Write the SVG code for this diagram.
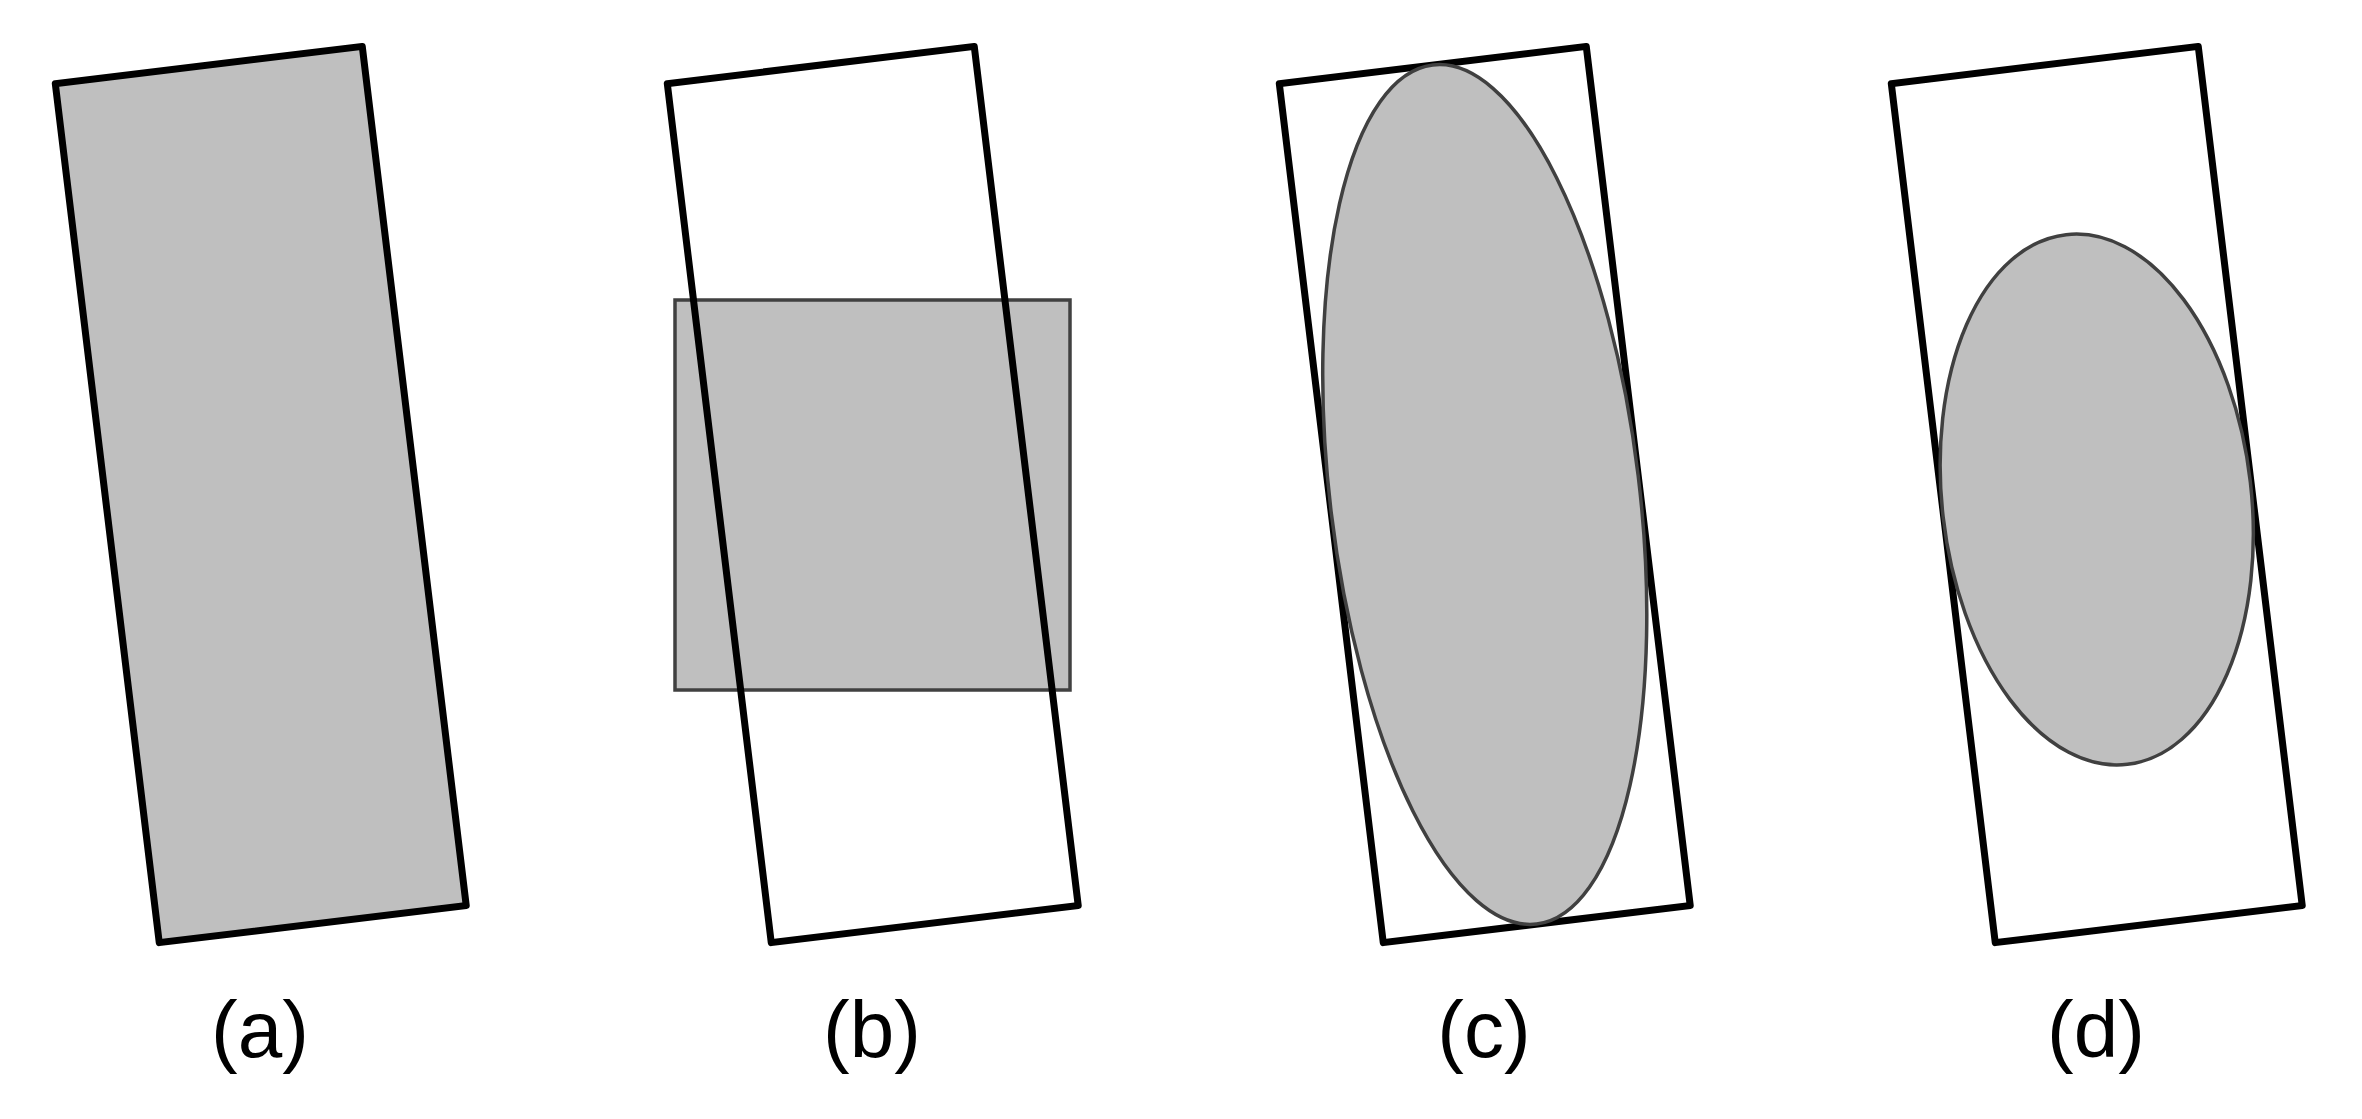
<svg xmlns="http://www.w3.org/2000/svg" width="2362" height="1119" viewBox="0 0 2362 1119">
  <defs>
    <style>
      .frame { fill: none; stroke: #000000; stroke-width: 7; stroke-linejoin: round; }
      .frame-filled { fill: #bfbfbf; stroke: #000000; stroke-width: 7; stroke-linejoin: round; }
      .shape { fill: #bfbfbf; stroke: #404040; stroke-width: 3.5; }
      .label { font-family: "Liberation Sans", Arial, sans-serif; font-size: 80px; fill: #000000; text-anchor: middle; }
    </style>
    <rect id="tiltrect" x="-154.6" y="-432.6" width="309.2" height="865.3"/>
  </defs>
  <rect width="2362" height="1119" fill="#ffffff"/>

  <g id="panel-a">
    <g transform="translate(260.75,494.5) rotate(-6.9)">
      <use href="#tiltrect" class="frame-filled"/>
    </g>
    <text class="label" x="260" y="1057">(a)</text>
  </g>

  <g id="panel-b">
    <rect class="shape" x="675" y="300" width="395" height="390"/>
    <g transform="translate(872.75,494.5) rotate(-6.9)">
      <use href="#tiltrect" class="frame"/>
    </g>
    <text class="label" x="872" y="1057">(b)</text>
  </g>

  <g id="panel-c">
    <g transform="translate(1484.75,494.5) rotate(-6.9)">
      <use href="#tiltrect" class="frame"/>
      <ellipse class="shape" cx="0" cy="0" rx="154.6" ry="432.6"/>
    </g>
    <text class="label" x="1484" y="1057">(c)</text>
  </g>

  <g id="panel-d">
    <g transform="translate(2096.75,494.5) rotate(-6.9)">
      <use href="#tiltrect" class="frame"/>
    </g>
    <g transform="translate(2096.75,499.5) rotate(-6.6)">
      <ellipse class="shape" cx="0" cy="0" rx="154.6" ry="266.6"/>
    </g>
    <text class="label" x="2096" y="1057">(d)</text>
  </g>

  <g id="connectors"/>
</svg>
